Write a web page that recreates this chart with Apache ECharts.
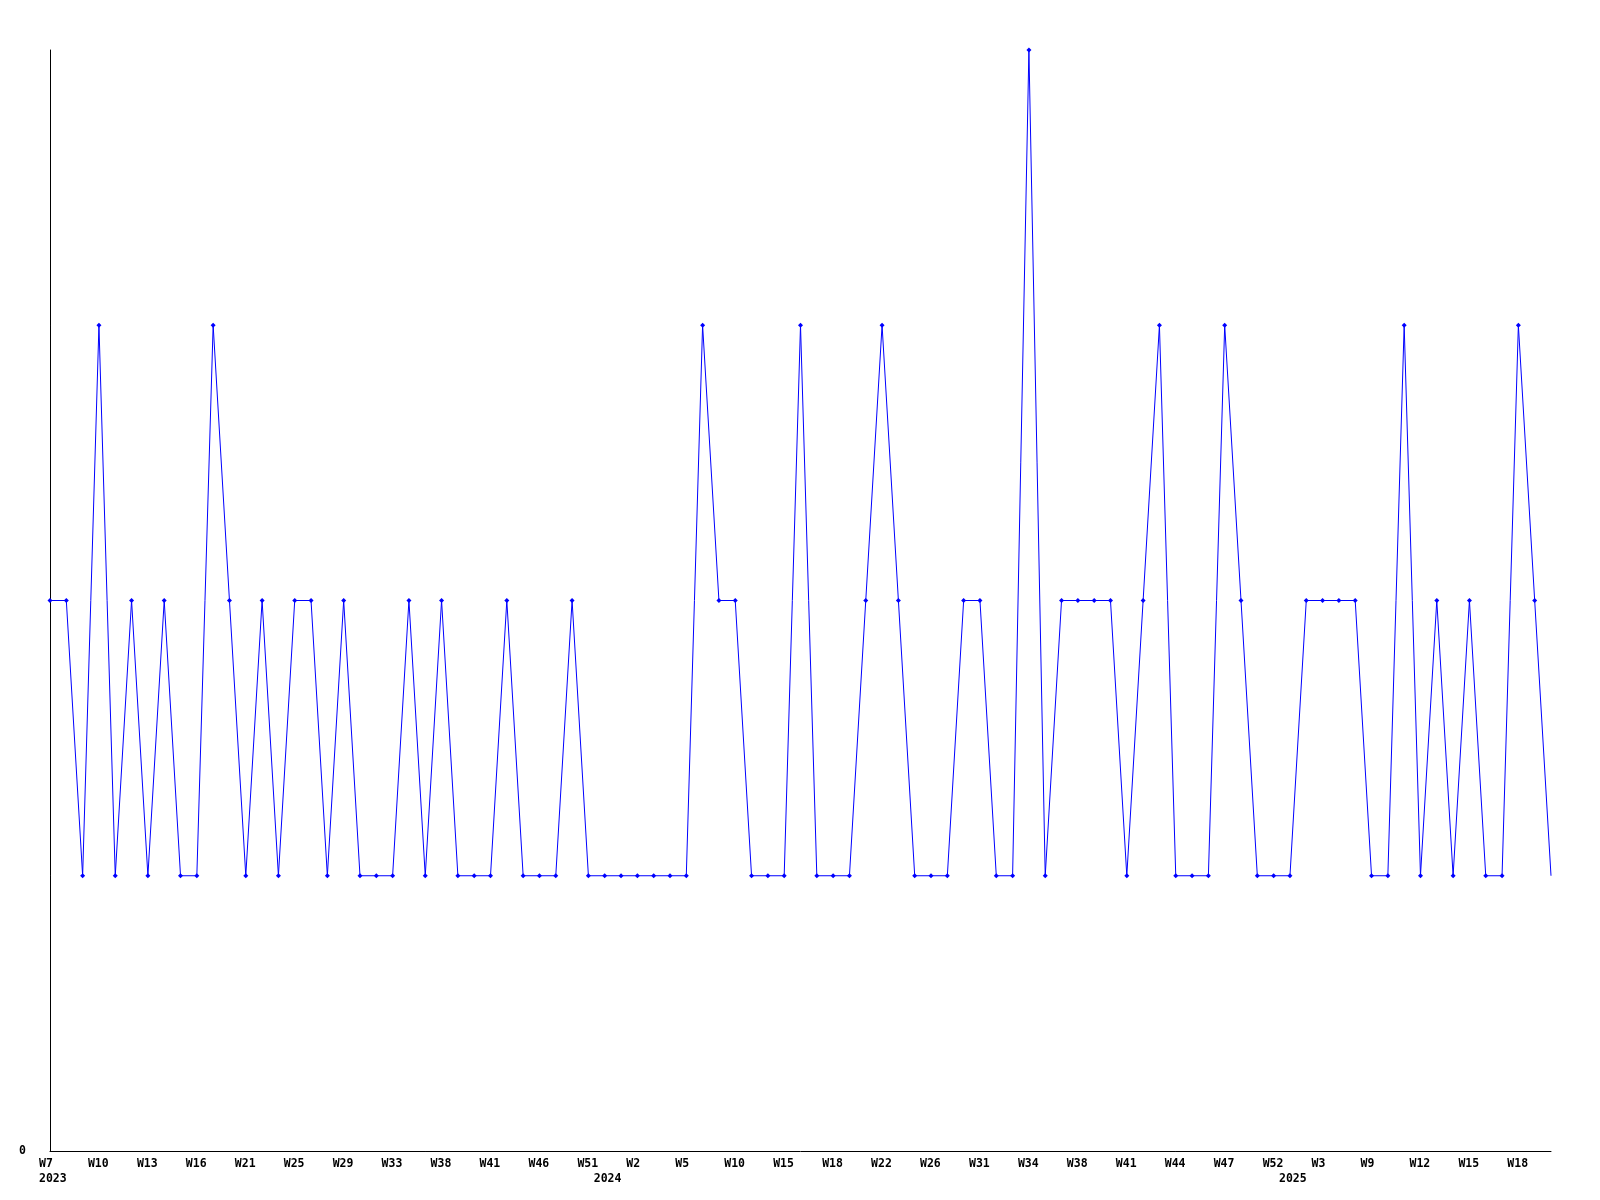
<!DOCTYPE html>
<html>
<head>
<meta charset="utf-8">
<script src="https://cdn.jsdelivr.net/npm/echarts@6/dist/echarts.min.js"></script>
<style>
html,body{margin:0;padding:0;background:#fff;}
#chart{width:1600px;height:1200px;}
</style>
</head>
<body>
<div id="chart"></div>
<script>
// Weekly values (one per data point, 93 points)
const values = [
  2, 2, 1, 3, 1, 2, 1, 2, 1, 1,
  3, 2, 1, 2, 1, 2, 2, 1, 2, 1,
  1, 1, 2, 1, 2, 1, 1, 1, 2, 1,
  1, 1, 2, 1, 1, 1, 1, 1, 1, 1,
  3, 2, 2, 1, 1, 1, 3, 1, 1, 1,
  2, 3, 2, 1, 1, 1, 2, 2, 1, 1,
  4, 1, 2, 2, 2, 2, 1, 2, 3, 1,
  1, 1, 3, 2, 1, 1, 1, 2, 2, 2,
  2, 1, 1, 3, 1, 2, 1, 2, 1, 1,
  3, 2, 1
];
// Tick labels, one every 3rd point
const tickLabels = [
  'W7','W10','W13','W16','W21','W25','W29','W33','W38','W41','W46',
  'W51','W2','W5','W10','W15','W18','W22','W26','W31','W34','W38',
  'W41','W44','W47','W52','W3','W9','W12','W15','W18'
];
const tickStep = 3;
// Year labels and the point index they sit under
const yearLabels = ['2023','2024','2025'];
const yearIndex = [0, 34, 76];
const yTickLabels = ['0'];

const categories = values.map((v, i) => String(i));
const font = {fontFamily: 'DejaVu Sans Mono', fontWeight: 'bold', fontSize: 11.5, color: '#000'};

const chart = echarts.init(document.getElementById('chart'), null, {renderer: 'canvas'});
chart.setOption({
  animation: false,
  backgroundColor: '#fff',
  grid: {left: 50, right: 49, top: 50, bottom: 49, containLabel: false},
  xAxis: [{
    type: 'category',
    data: categories,
    boundaryGap: false,
    axisLine: {lineStyle: {color: '#000', width: 1}},
    axisTick: {show: false},
    splitLine: {show: false},
    axisLabel: Object.assign({
      interval: 0,
      margin: 7,
      align: 'left',
      padding: [0, 0, 0, -11],
      formatter: (v, i) => (i % tickStep === 0 ? (tickLabels[i / tickStep] || '') : '')
    }, font)
  }, {
    type: 'category',
    data: categories,
    boundaryGap: false,
    position: 'bottom',
    offset: 15,
    axisLine: {show: false},
    axisTick: {show: false},
    splitLine: {show: false},
    axisLabel: Object.assign({
      interval: 0,
      margin: 7,
      align: 'left',
      padding: [0, 0, 0, -11],
      formatter: (v, i) => {
        const k = yearIndex.indexOf(i);
        return k >= 0 ? yearLabels[k] : '';
      }
    }, font)
  }],
  yAxis: {
    type: 'value',
    min: 0,
    max: 4,
    interval: 4,
    axisLine: {show: true, lineStyle: {color: '#000', width: 1}},
    axisTick: {show: false},
    splitLine: {show: false},
    axisLabel: Object.assign({
      margin: 24,
      formatter: (v) => (v === 0 ? yTickLabels[0] : '')
    }, font)
  },
  series: [{
    type: 'line',
    data: values.map((v, i) => i === values.length - 1 ? {value: v, symbol: 'none'} : v),
    symbol: 'diamond',
    symbolSize: 5,
    showAllSymbol: true,
    lineStyle: {color: '#0000ff', width: 1},
    itemStyle: {color: '#0000ff'},
    emphasis: {disabled: true}
  }]
});
</script>
</body>
</html>
